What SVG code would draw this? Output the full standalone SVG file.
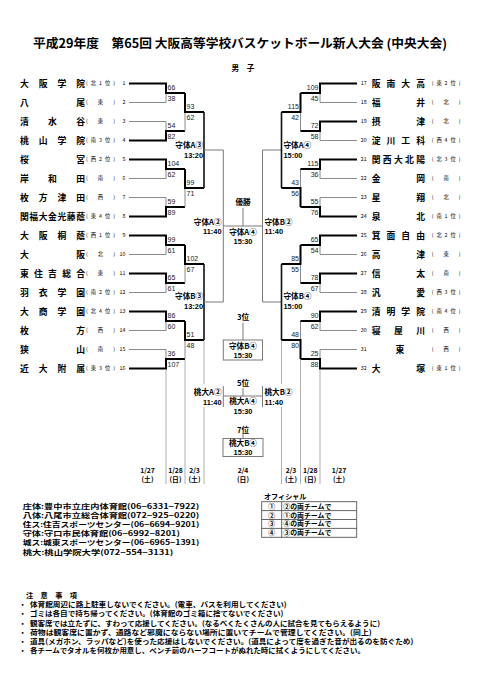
<svg xmlns="http://www.w3.org/2000/svg" width="481" height="680" viewBox="0 0 481 680">
<style>
text{font-family:"Noto Sans CJK JP","Noto Sans",sans-serif;fill:#000}
.ttl{font-size:12.5px;font-weight:bold}
.nm{font-size:8.8px;font-weight:bold}
.pf{font-size:5.3px}
.no{font-size:5.3px}
.sc{font-family:"Liberation Sans",Arial,sans-serif;font-size:7px;fill:#222}
.lb{font-size:7.6px;font-weight:bold}
.tm{font-family:"Liberation Sans",Arial,sans-serif;font-size:7.4px;font-weight:bold}
.dt{font-size:6.8px;font-weight:bold}
.vn{font-size:7.1px;font-weight:bold}
.of{font-size:6.9px;font-weight:bold}
.nt{font-size:7.2px;font-weight:bold}
.w{stroke:#000;stroke-width:2;fill:none}
.l{stroke:#8a8a8a;stroke-width:1;fill:none}
.q{stroke:#111;stroke-width:1.6;fill:none}
.g{stroke:#7a7a7a;stroke-width:1;fill:none}
.d{stroke:#9a9a9a;stroke-width:0.8;fill:none}
.bx{stroke:#7a7a7a;stroke-width:1;fill:#fff}
</style>

<g id="title">
<text class="ttl" x="33" y="47.5" textLength="414" lengthAdjust="spacingAndGlyphs">平成29年度　第65回 大阪高等学校バスケットボール新人大会 (中央大会)</text>
<text class="lb" x="243" y="71" text-anchor="middle" font-size="9">男　子</text>
</g>

<g id="connectors">
<path class="l" d="M129 102.5H166V93"/><path class="w" d="M129 83.5H166V93H185"/>
<path class="l" d="M129 121.5H166V131"/><path class="w" d="M129 140.5H166V131H185"/>
<path class="l" d="M129 178.5H166V169"/><path class="w" d="M129 159.5H166V169H185"/>
<path class="l" d="M129 197.5H166V207"/><path class="w" d="M129 216.5H166V207H185"/>
<path class="l" d="M129 254.5H166V245"/><path class="w" d="M129 235.5H166V245H185"/>
<path class="l" d="M129 292.5H166V283"/><path class="w" d="M129 273.5H166V283H185"/>
<path class="l" d="M129 330.5H166V321"/><path class="w" d="M129 311.5H166V321H185"/>
<path class="l" d="M129 349.5H166V359"/><path class="w" d="M129 368.5H166V359H185"/>
<path class="l" d="M185 131V112"/><path class="w" d="M185 93V112H204"/>
<path class="l" d="M185 207V188"/><path class="w" d="M185 169V188H204"/>
<path class="l" d="M185 283V264"/><path class="w" d="M185 245V264H204"/>
<path class="l" d="M185 359V340"/><path class="w" d="M185 321V340H204"/>
<path class="q" d="M204 112V188M204 264V340"/>
<path class="g" d="M204 150H223.3V302H204"/>
<path class="g" d="M223.3 226H262.5M243 208V226"/>
<path class="g" d="M281.5 150H262.5V302H281.5"/>
<path class="q" d="M281.5 112V188M281.5 264V340"/>
<path class="l" d="M300.5 131V112"/><path class="w" d="M300.5 93V112H281.5"/>
<path class="l" d="M300.5 169V188"/><path class="w" d="M300.5 207V188H281.5"/>
<path class="l" d="M300.5 283V264"/><path class="w" d="M300.5 245V264H281.5"/>
<path class="l" d="M300.5 321V340"/><path class="w" d="M300.5 359V340H281.5"/>
<path class="l" d="M357 102.5H320V93"/><path class="w" d="M357 83.5H320V93H300.5"/>
<path class="l" d="M357 140.5H320V131"/><path class="w" d="M357 121.5H320V131H300.5"/>
<path class="l" d="M357 178.5H320V169"/><path class="w" d="M357 159.5H320V169H300.5"/>
<path class="l" d="M357 197.5H320V207"/><path class="w" d="M357 216.5H320V207H300.5"/>
<path class="l" d="M357 254.5H320V245"/><path class="w" d="M357 235.5H320V245H300.5"/>
<path class="l" d="M357 292.5H320V283"/><path class="w" d="M357 273.5H320V283H300.5"/>
<path class="l" d="M357 330.5H320V321"/><path class="w" d="M357 311.5H320V321H300.5"/>
<path class="l" d="M357 349.5H320V359"/><path class="w" d="M357 368.5H320V359H300.5"/>
<path class="d" d="M166 369.5V484M185 360V484M204 341V384M204 407V484"/>
<path class="d" d="M320 369.5V484M300.5 360V484M281.5 341V384M281.5 407V484"/>
<path class="g" d="M243 322.7V340"/>
<path class="g" d="M223.3 396H262.5M243 388V396M223.3 386V407M262.5 386V407"/>
<path class="g" d="M243 433.5V438.5"/>
</g>

<g id="scores">
<text class="sc" x="167.5" y="90">66</text><text class="sc" x="167.5" y="101">38</text>
<text class="sc" x="167.5" y="128">54</text><text class="sc" x="167.5" y="139">82</text>
<text class="sc" x="167.5" y="166">104</text><text class="sc" x="167.5" y="177">62</text>
<text class="sc" x="167.5" y="204">59</text><text class="sc" x="167.5" y="215">89</text>
<text class="sc" x="167.5" y="242">99</text><text class="sc" x="167.5" y="253">61</text>
<text class="sc" x="167.5" y="280">65</text><text class="sc" x="167.5" y="291">61</text>
<text class="sc" x="167.5" y="318">86</text><text class="sc" x="167.5" y="329">60</text>
<text class="sc" x="167.5" y="356">36</text><text class="sc" x="167.5" y="367">107</text>
<text class="sc" x="186.5" y="109">93</text><text class="sc" x="186.5" y="120">62</text>
<text class="sc" x="186.5" y="185">99</text><text class="sc" x="186.5" y="196">71</text>
<text class="sc" x="186.5" y="261">102</text><text class="sc" x="186.5" y="272">67</text>
<text class="sc" x="186.5" y="337">51</text><text class="sc" x="186.5" y="348">48</text>
<g text-anchor="end">
<text class="sc" x="318.5" y="90">109</text><text class="sc" x="318.5" y="101">45</text>
<text class="sc" x="318.5" y="128">72</text><text class="sc" x="318.5" y="139">58</text>
<text class="sc" x="318.5" y="166">115</text><text class="sc" x="318.5" y="177">36</text>
<text class="sc" x="318.5" y="204">55</text><text class="sc" x="318.5" y="215">76</text>
<text class="sc" x="318.5" y="242">65</text><text class="sc" x="318.5" y="253">54</text>
<text class="sc" x="318.5" y="280">78</text><text class="sc" x="318.5" y="291">67</text>
<text class="sc" x="318.5" y="318">90</text><text class="sc" x="318.5" y="329">62</text>
<text class="sc" x="318.5" y="356">25</text><text class="sc" x="318.5" y="367">88</text>
<text class="sc" x="299" y="109">115</text><text class="sc" x="299" y="120">42</text>
<text class="sc" x="299" y="185">43</text><text class="sc" x="299" y="196">56</text>
<text class="sc" x="299" y="261">85</text><text class="sc" x="299" y="272">55</text>
<text class="sc" x="299" y="337">48</text><text class="sc" x="299" y="348">80</text>
</g>
</g>

<g id="games">
<g id="qf-a3" text-anchor="end"><text class="lb" x="203" y="148">守体A③</text><text class="tm" x="203" y="158">13:20</text></g>
<g id="qf-b3" text-anchor="end"><text class="lb" x="203" y="299">守体B③</text><text class="tm" x="203" y="309">13:20</text></g>
<g id="qf-a4"><text class="lb" x="283.5" y="148">守体A④</text><text class="tm" x="283.5" y="158">15:00</text></g>
<g id="qf-b4"><text class="lb" x="283.5" y="299">守体B④</text><text class="tm" x="283.5" y="309">15:00</text></g>
<g id="sf-a2" text-anchor="end"><text class="lb" x="221.5" y="224.5">守体A②</text><text class="tm" x="221.5" y="234">11:40</text></g>
<g id="sf-b2"><text class="lb" x="264.5" y="224.5">守体B②</text><text class="tm" x="264.5" y="234">11:40</text></g>
<g id="final" text-anchor="middle"><text class="lb" x="243" y="205">優勝</text><text class="lb" x="243" y="234.5">守体A④</text><text class="tm" x="243" y="244">15:30</text></g>
<g id="third" text-anchor="middle"><text class="lb" x="243" y="319.5">3位</text><rect class="bx" x="223.3" y="340" width="39.2" height="20"/><text class="lb" x="243" y="348.5">守体B④</text><text class="tm" x="243" y="357.5">15:30</text></g>
<g id="fifth-a2" text-anchor="end"><text class="lb" x="221.5" y="394.5">桃大A②</text><text class="tm" x="221.5" y="404.5">11:40</text></g>
<g id="fifth-b2"><text class="lb" x="264.5" y="394.5">桃大B②</text><text class="tm" x="264.5" y="404.5">11:40</text></g>
<g id="fifth" text-anchor="middle"><text class="lb" x="243" y="386">5位</text><text class="lb" x="243" y="403.5">桃大A④</text><text class="tm" x="243" y="413.5">15:30</text></g>
<g id="seventh" text-anchor="middle"><text class="lb" x="243" y="432.5">7位</text><rect class="bx" x="223" y="438.5" width="40" height="18"/><text class="lb" x="243" y="445.5">桃大B④</text><text class="tm" x="243" y="454.5">15:30</text></g>
</g>

<g id="dates" text-anchor="middle">
<text class="dt" x="147.5" y="472.5">1/27</text><text class="dt" x="147.5" y="482">(土)</text>
<text class="dt" x="175.5" y="472.5">1/28</text><text class="dt" x="175.5" y="482">(日)</text>
<text class="dt" x="194.5" y="472.5">2/3</text><text class="dt" x="194.5" y="482">(土)</text>
<text class="dt" x="243" y="472.5">2/4</text><text class="dt" x="243" y="482">(日)</text>
<text class="dt" x="291" y="472.5">2/3</text><text class="dt" x="291" y="482">(土)</text>
<text class="dt" x="310.3" y="472.5">1/28</text><text class="dt" x="310.3" y="482">(日)</text>
<text class="dt" x="339" y="472.5">1/27</text><text class="dt" x="339" y="482">(土)</text>
</g>

<g id="teams-left">
<g id="t1"><text class="nm" x="20" y="86.7" textLength="65" lengthAdjust="spacing">大阪学院</text><text class="pf" x="86" y="85.4" textLength="29" lengthAdjust="spacing">(北1位)</text><text class="no" x="125.5" y="85.4" text-anchor="end">1</text></g>
<g id="t2"><text class="nm" x="20" y="105.7" textLength="65" lengthAdjust="spacing">八尾</text><text class="pf" x="86" y="104.4" textLength="29" lengthAdjust="spacing">(東)</text><text class="no" x="125.5" y="104.4" text-anchor="end">2</text></g>
<g id="t3"><text class="nm" x="20" y="124.7" textLength="65" lengthAdjust="spacing">清水谷</text><text class="pf" x="86" y="123.4" textLength="29" lengthAdjust="spacing">(東)</text><text class="no" x="125.5" y="123.4" text-anchor="end">3</text></g>
<g id="t4"><text class="nm" x="20" y="143.7" textLength="65" lengthAdjust="spacing">桃山学院</text><text class="pf" x="86" y="142.4" textLength="29" lengthAdjust="spacing">(南3位)</text><text class="no" x="125.5" y="142.4" text-anchor="end">4</text></g>
<g id="t5"><text class="nm" x="20" y="162.7" textLength="65" lengthAdjust="spacing">桜宮</text><text class="pf" x="86" y="161.4" textLength="29" lengthAdjust="spacing">(西2位)</text><text class="no" x="125.5" y="161.4" text-anchor="end">5</text></g>
<g id="t6"><text class="nm" x="20" y="181.7" textLength="65" lengthAdjust="spacing">岸和田</text><text class="pf" x="86" y="180.4" textLength="29" lengthAdjust="spacing">(南)</text><text class="no" x="125.5" y="180.4" text-anchor="end">6</text></g>
<g id="t7"><text class="nm" x="20" y="200.7" textLength="65" lengthAdjust="spacing">枚方津田</text><text class="pf" x="86" y="199.4" textLength="29" lengthAdjust="spacing">(西)</text><text class="no" x="125.5" y="199.4" text-anchor="end">7</text></g>
<g id="t8"><text class="nm" x="20" y="219.7" textLength="65" lengthAdjust="spacing">関福大金光藤蔭</text><text class="pf" x="86" y="218.4" textLength="29" lengthAdjust="spacing">(東4位)</text><text class="no" x="125.5" y="218.4" text-anchor="end">8</text></g>
<g id="t9"><text class="nm" x="20" y="238.7" textLength="65" lengthAdjust="spacing">大阪桐蔭</text><text class="pf" x="86" y="237.4" textLength="29" lengthAdjust="spacing">(西1位)</text><text class="no" x="125.5" y="237.4" text-anchor="end">9</text></g>
<g id="t10"><text class="nm" x="20" y="257.7" textLength="65" lengthAdjust="spacing">大阪</text><text class="pf" x="86" y="256.4" textLength="29" lengthAdjust="spacing">(北)</text><text class="no" x="125.5" y="256.4" text-anchor="end">10</text></g>
<g id="t11"><text class="nm" x="20" y="276.7" textLength="65" lengthAdjust="spacing">東住吉総合</text><text class="pf" x="86" y="275.4" textLength="29" lengthAdjust="spacing">(東)</text><text class="no" x="125.5" y="275.4" text-anchor="end">11</text></g>
<g id="t12"><text class="nm" x="20" y="295.7" textLength="65" lengthAdjust="spacing">羽衣学園</text><text class="pf" x="86" y="294.4" textLength="29" lengthAdjust="spacing">(南2位)</text><text class="no" x="125.5" y="294.4" text-anchor="end">12</text></g>
<g id="t13"><text class="nm" x="20" y="314.7" textLength="65" lengthAdjust="spacing">大商学園</text><text class="pf" x="86" y="313.4" textLength="29" lengthAdjust="spacing">(北4位)</text><text class="no" x="125.5" y="313.4" text-anchor="end">13</text></g>
<g id="t14"><text class="nm" x="20" y="333.7" textLength="65" lengthAdjust="spacing">枚方</text><text class="pf" x="86" y="332.4" textLength="29" lengthAdjust="spacing">(西)</text><text class="no" x="125.5" y="332.4" text-anchor="end">14</text></g>
<g id="t15"><text class="nm" x="20" y="352.7" textLength="65" lengthAdjust="spacing">狭山</text><text class="pf" x="86" y="351.4" textLength="29" lengthAdjust="spacing">(南)</text><text class="no" x="125.5" y="351.4" text-anchor="end">15</text></g>
<g id="t16"><text class="nm" x="20" y="371.7" textLength="65" lengthAdjust="spacing">近大附属</text><text class="pf" x="86" y="370.4" textLength="29" lengthAdjust="spacing">(東3位)</text><text class="no" x="125.5" y="370.4" text-anchor="end">16</text></g>
</g>

<g id="teams-right">
<g id="t17"><text class="no" x="360.7" y="85.4">17</text><text class="nm" x="371.7" y="86.7" textLength="53.3" lengthAdjust="spacing">阪南大高</text><text class="pf" x="431.7" y="85.4" textLength="28.8" lengthAdjust="spacing">(東2位)</text></g>
<g id="t18"><text class="no" x="360.7" y="104.4">18</text><text class="nm" x="371.7" y="105.7" textLength="53.3" lengthAdjust="spacing">福井</text><text class="pf" x="431.7" y="104.4" textLength="28.8" lengthAdjust="spacing">(北)</text></g>
<g id="t19"><text class="no" x="360.7" y="123.4">19</text><text class="nm" x="371.7" y="124.7" textLength="53.3" lengthAdjust="spacing">摂津</text><text class="pf" x="431.7" y="123.4" textLength="28.8" lengthAdjust="spacing">(北)</text></g>
<g id="t20"><text class="no" x="360.7" y="142.4">20</text><text class="nm" x="371.7" y="143.7" textLength="53.3" lengthAdjust="spacing">淀川工科</text><text class="pf" x="431.7" y="142.4" textLength="28.8" lengthAdjust="spacing">(西4位)</text></g>
<g id="t21"><text class="no" x="360.7" y="161.4">21</text><text class="nm" x="371.7" y="162.7" textLength="53.3" lengthAdjust="spacing">関西大北陽</text><text class="pf" x="431.7" y="161.4" textLength="28.8" lengthAdjust="spacing">(北3位)</text></g>
<g id="t22"><text class="no" x="360.7" y="180.4">22</text><text class="nm" x="371.7" y="181.7" textLength="53.3" lengthAdjust="spacing">金岡</text><text class="pf" x="431.7" y="180.4" textLength="28.8" lengthAdjust="spacing">(南)</text></g>
<g id="t23"><text class="no" x="360.7" y="199.4">23</text><text class="nm" x="371.7" y="200.7" textLength="53.3" lengthAdjust="spacing">星翔</text><text class="pf" x="431.7" y="199.4" textLength="28.8" lengthAdjust="spacing">(北)</text></g>
<g id="t24"><text class="no" x="360.7" y="218.4">24</text><text class="nm" x="371.7" y="219.7" textLength="53.3" lengthAdjust="spacing">泉北</text><text class="pf" x="431.7" y="218.4" textLength="28.8" lengthAdjust="spacing">(南1位)</text></g>
<g id="t25"><text class="no" x="360.7" y="237.4">25</text><text class="nm" x="371.7" y="238.7" textLength="53.3" lengthAdjust="spacing">箕面自由</text><text class="pf" x="431.7" y="237.4" textLength="28.8" lengthAdjust="spacing">(北2位)</text></g>
<g id="t26"><text class="no" x="360.7" y="256.4">26</text><text class="nm" x="371.7" y="257.7" textLength="53.3" lengthAdjust="spacing">高津</text><text class="pf" x="431.7" y="256.4" textLength="28.8" lengthAdjust="spacing">(東)</text></g>
<g id="t27"><text class="no" x="360.7" y="275.4">27</text><text class="nm" x="371.7" y="276.7" textLength="53.3" lengthAdjust="spacing">信太</text><text class="pf" x="431.7" y="275.4" textLength="28.8" lengthAdjust="spacing">(南)</text></g>
<g id="t28"><text class="no" x="360.7" y="294.4">28</text><text class="nm" x="371.7" y="295.7" textLength="53.3" lengthAdjust="spacing">汎愛</text><text class="pf" x="431.7" y="294.4" textLength="28.8" lengthAdjust="spacing">(西3位)</text></g>
<g id="t29"><text class="no" x="360.7" y="313.4">29</text><text class="nm" x="371.7" y="314.7" textLength="53.3" lengthAdjust="spacing">清明学院</text><text class="pf" x="431.7" y="313.4" textLength="28.8" lengthAdjust="spacing">(南4位)</text></g>
<g id="t30"><text class="no" x="360.7" y="332.4">30</text><text class="nm" x="371.7" y="333.7" textLength="53.3" lengthAdjust="spacing">寝屋川</text><text class="pf" x="431.7" y="332.4" textLength="28.8" lengthAdjust="spacing">(西)</text></g>
<g id="t31"><text class="no" x="360.7" y="351.4">31</text><text class="nm" x="400" y="352.7" text-anchor="middle">東</text><text class="pf" x="431.7" y="351.4" textLength="28.8" lengthAdjust="spacing">(西)</text></g>
<g id="t32"><text class="no" x="360.7" y="370.4">32</text><text class="nm" x="371.7" y="371.7" textLength="53.3" lengthAdjust="spacing">大塚</text><text class="pf" x="431.7" y="370.4" textLength="28.8" lengthAdjust="spacing">(東1位)</text></g>
</g>

<g id="venues">
<text class="vn" x="22.7" y="508.5" textLength="176.6" lengthAdjust="spacingAndGlyphs">庄体:豊中市立庄内体育館(06−6331−7922)</text>
<text class="vn" x="22.7" y="517.8" textLength="176.6" lengthAdjust="spacingAndGlyphs">八体:八尾市立総合体育館(072−925−0220)</text>
<text class="vn" x="22.7" y="527.1" textLength="176.6" lengthAdjust="spacingAndGlyphs">住ス:住吉スポーツセンター(06−6694−9201)</text>
<text class="vn" x="22.7" y="536.2" textLength="157.3" lengthAdjust="spacingAndGlyphs">守体:守口市民体育館(06−6992−8201)</text>
<text class="vn" x="22.7" y="545.3" textLength="176.6" lengthAdjust="spacingAndGlyphs">城ス:城東スポーツセンター(06−6965−1391)</text>
<text class="vn" x="22.7" y="554.6" textLength="150.6" lengthAdjust="spacingAndGlyphs">桃大:桃山学院大学(072−554−3131)</text>
</g>

<g id="officials">
<text class="vn" x="264" y="499.3" font-size="7.5">オフィシャル</text>
<rect x="261.7" y="501.7" width="95" height="35.6" fill="none" stroke="#555" stroke-width="0.9"/>
<path d="M261.7 510.6H356.7M261.7 519.5H356.7M261.7 528.4H356.7M281.7 501.7V537.3" stroke="#555" stroke-width="0.9" fill="none"/>
<g text-anchor="middle">
<text class="of" x="271.7" y="508.6">①</text><text class="of" x="271.7" y="517.5">②</text><text class="of" x="271.7" y="526.4">③</text><text class="of" x="271.7" y="535.3">④</text>
</g>
<text class="of" x="283.3" y="508.6">②の両チームで</text>
<text class="of" x="283.3" y="517.5">①の両チームで</text>
<text class="of" x="283.3" y="526.4">④の両チームで</text>
<text class="of" x="283.3" y="535.3">③の両チームで</text>
</g>

<g id="notes">
<text class="nt" x="26" y="598" textLength="51" lengthAdjust="spacing">注意事項</text>
<g text-anchor="middle">
<text class="nt" x="22.7" y="607.3">・</text><text class="nt" x="22.7" y="616.3">・</text><text class="nt" x="22.7" y="625.7">・</text><text class="nt" x="22.7" y="634.7">・</text><text class="nt" x="22.7" y="643.7">・</text><text class="nt" x="22.7" y="653">・</text>
</g>
<text class="nt" x="30" y="607.3" textLength="256.7" lengthAdjust="spacingAndGlyphs">体育館周辺に路上駐車しないでください。(電車、バスを利用してください)</text>
<text class="nt" x="30" y="616.3" textLength="253.3" lengthAdjust="spacingAndGlyphs">ゴミは各自で持ち帰ってください。(体育館のゴミ箱に捨てないでください)</text>
<text class="nt" x="30" y="625.7" textLength="350" lengthAdjust="spacingAndGlyphs">観客席では立たずに、すわって応援してください。(なるべくたくさんの人に試合を見てもらえるように)</text>
<text class="nt" x="30" y="634.7" textLength="341.7" lengthAdjust="spacingAndGlyphs">荷物は観客席に置かず、通路など邪魔にならない場所に置いてチームで管理してください。(同上)</text>
<text class="nt" x="30" y="643.7" textLength="383.3" lengthAdjust="spacingAndGlyphs">道具(メガホン、ラッパなど)を使った応援はしないでください。(道具によって度を過ぎた音が出るのを防ぐため)</text>
<text class="nt" x="30" y="653" textLength="335" lengthAdjust="spacingAndGlyphs">各チームでタオルを何枚か用意し、ベンチ前のハーフコートがぬれた時に拭くようにしてください。</text>
</g>
</svg>
